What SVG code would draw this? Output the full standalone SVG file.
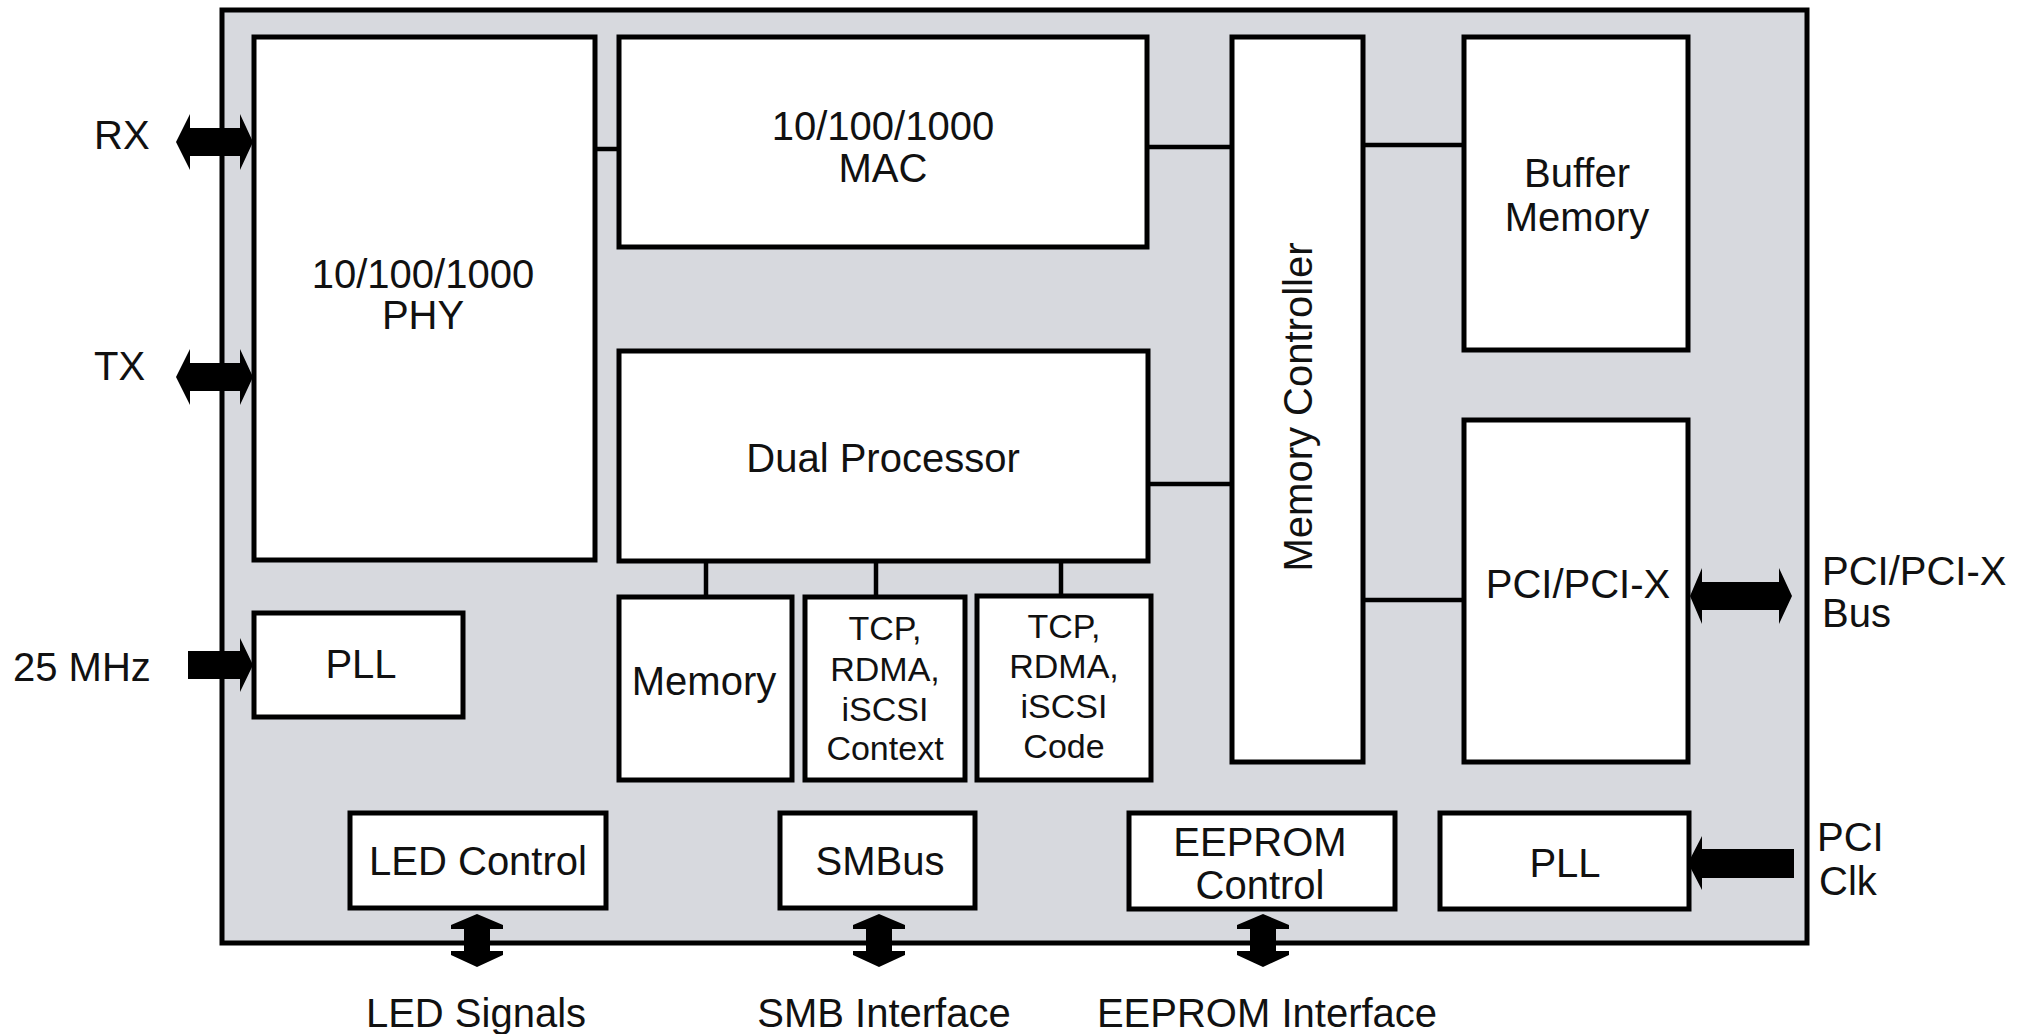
<svg xmlns="http://www.w3.org/2000/svg" width="2025" height="1034" viewBox="0 0 2025 1034">
<style>
.chip{fill:#d7d9de;stroke:#000;stroke-width:5}
.box{fill:#fff;stroke:#000;stroke-width:5}
.ln{stroke:#000;stroke-width:4.5;fill:none}
.ar{fill:#000;stroke:none}
text{font-family:"Liberation Sans",Arial,Helvetica,sans-serif;fill:#111;font-size:40px}
.c{text-anchor:middle}
.s{font-size:34px}
</style>
<rect width="2025" height="1034" fill="#fff"/>
<g id="chip"><rect class="chip" x="222" y="10" width="1585" height="933"/></g>

<g id="connectors">
<line class="ln" x1="595" y1="149" x2="619" y2="149"/>
<line class="ln" x1="1147" y1="147" x2="1232" y2="147"/>
<line class="ln" x1="1363" y1="145" x2="1464" y2="145"/>
<line class="ln" x1="1148" y1="484" x2="1232" y2="484"/>
<line class="ln" x1="1363" y1="600" x2="1464" y2="600"/>
<line class="ln" x1="706" y1="561" x2="706" y2="597"/>
<line class="ln" x1="876" y1="561" x2="876" y2="597"/>
<line class="ln" x1="1061" y1="561" x2="1061" y2="597" stroke-width="5.5"/>
<path class="ar" d="M176,142 L190,114 L190,128 L240,128 L240,114 L253,142 L240,170 L240,156 L190,156 L190,170 Z"/>
<path class="ar" d="M176,377 L190,349 L190,363 L240,363 L240,349 L253,377 L240,405 L240,391 L190,391 L190,405 Z"/>
<path class="ar" d="M188,651 L240,651 L240,638 L253,665 L240,692 L240,679 L188,679 Z"/>
<path class="ar" d="M1690,596 L1702,568 L1702,582 L1779,582 L1779,568 L1792,596 L1779,624 L1779,610 L1702,610 L1702,624 Z"/>
<path class="ar" d="M1688,863 L1702,836 L1702,849 L1794,849 L1794,878 L1702,878 L1702,890 Z"/>
<path class="ar" d="M477,914 L503,925 L503,929 L490,929 L490,951 L503,951 L503,955 L477,967 L451,955 L451,951 L464,951 L464,929 L451,929 L451,925 Z"/>
<path class="ar" d="M879,914 L905,925 L905,929 L892,929 L892,951 L905,951 L905,955 L879,967 L853,955 L853,951 L866,951 L866,929 L853,929 L853,925 Z"/>
<path class="ar" d="M1263,914 L1289,925 L1289,929 L1276,929 L1276,951 L1289,951 L1289,955 L1263,967 L1237,955 L1237,951 L1250,951 L1250,929 L1237,929 L1237,925 Z"/>
</g>

<g id="phy"><rect class="box" x="254" y="37" width="341" height="523"/>
<text class="c" x="423" y="288">10/100/1000</text><text class="c" x="423" y="329">PHY</text></g>
<g id="mac"><rect class="box" x="619" y="37" width="528" height="210"/>
<text class="c" x="883" y="140">10/100/1000</text><text class="c" x="883" y="182">MAC</text></g>
<g id="memctrl"><rect class="box" x="1232" y="37" width="131" height="725"/>
<text class="c" transform="translate(1312,407) rotate(-90)">Memory Controller</text></g>
<g id="buffer"><rect class="box" x="1464" y="37" width="224" height="313"/>
<text class="c" x="1577" y="187">Buffer</text><text class="c" x="1577" y="231">Memory</text></g>
<g id="pci"><rect class="box" x="1464" y="420" width="224" height="342"/>
<text class="c" x="1578" y="598">PCI/PCI-X</text></g>
<g id="dualproc"><rect class="box" x="619" y="351" width="529" height="210"/>
<text class="c" x="883" y="472">Dual Processor</text></g>
<g id="memory"><rect class="box" x="619" y="597" width="173" height="183"/>
<text class="c" x="704" y="695">Memory</text></g>
<g id="context"><rect class="box" x="805" y="597" width="160" height="183" stroke-width="6"/>
<text class="c s" x="885" y="640">TCP,</text><text class="c s" x="885" y="681">RDMA,</text><text class="c s" x="885" y="721">iSCSI</text><text class="c s" x="885" y="760">Context</text></g>
<g id="code"><rect class="box" x="977" y="596" width="174" height="184" stroke-width="6"/>
<text class="c s" x="1064" y="638">TCP,</text><text class="c s" x="1064" y="678">RDMA,</text><text class="c s" x="1064" y="718">iSCSI</text><text class="c s" x="1064" y="758">Code</text></g>
<g id="pll1"><rect class="box" x="254" y="613" width="209" height="104"/>
<text class="c" x="361" y="678">PLL</text></g>
<g id="led"><rect class="box" x="350" y="813" width="256" height="95"/>
<text class="c" x="478" y="875">LED Control</text></g>
<g id="smbus"><rect class="box" x="780" y="813" width="195" height="95"/>
<text class="c" x="880" y="875">SMBus</text></g>
<g id="eeprom"><rect class="box" x="1129" y="813" width="266" height="96"/>
<text class="c" x="1260" y="856">EEPROM</text><text class="c" x="1260" y="899">Control</text></g>
<g id="pll2"><rect class="box" x="1440" y="813" width="249" height="96"/>
<text class="c" x="1565" y="877">PLL</text></g>

<g id="labels">
<text x="94" y="149">RX</text>
<text x="94" y="380">TX</text>
<text x="13" y="681">25 MHz</text>
<text x="1822" y="585">PCI/PCI-X</text>
<text x="1822" y="627">Bus</text>
<text x="1817" y="851">PCI</text>
<text x="1819" y="895">Clk</text>
<text class="c" x="476" y="1027">LED Signals</text>
<text class="c" x="884" y="1027">SMB Interface</text>
<text class="c" x="1267" y="1027">EEPROM Interface</text>
</g>
</svg>
